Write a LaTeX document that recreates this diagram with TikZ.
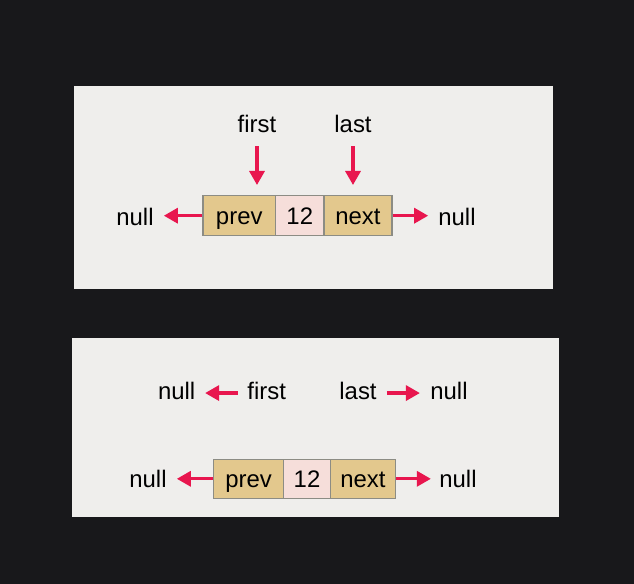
\documentclass[tikz,border=0pt]{standalone}
\usepackage{fontspec}
\setmainfont{Liberation Sans}
\usetikzlibrary{arrows.meta}
\definecolor{bgdark}{HTML}{18181B}
\definecolor{panel}{HTML}{EFEEEC}
\definecolor{tan}{HTML}{E3C88D}
\definecolor{pinkc}{HTML}{F6DEDA}
\definecolor{edgegray}{HTML}{8C8C84}
\definecolor{arrowred}{HTML}{E8164E}
\tikzset{
  lbl/.style={font=\fontsize{24}{28}\selectfont, inner sep=0pt, anchor=base, text height=12.5bp, text depth=0pt},
  cell/.style={draw=edgegray, line width=1.4bp, inner sep=0pt, font=\fontsize{24}{28}\selectfont, text height=17bp, text depth=0pt},
  tancell/.style={cell, fill=tan},
  pinkcell/.style={cell, fill=pinkc},
  ptr/.style={draw=arrowred, line width=3.2bp, -{Triangle[length=14bp,width=15bp]}}
}
\begin{document}
\begin{tikzpicture}[x=1bp,y=-1bp]
\useasboundingbox (0,0) rectangle (634,584);
\fill[bgdark] (0,0) rectangle (634,584);
\fill[panel] (74,86) rectangle (553,289);
\fill[panel] (72,338) rectangle (559,517);

% ---- top panel ----
\node[tancell, minimum width=72.5bp, minimum height=40bp] (prevT) at (239.25,215.7) {prev};
\node[pinkcell, minimum width=48.5bp, minimum height=40bp] (numT) at (299.75,215.7) {12};
\node[tancell, minimum width=68bp, minimum height=40bp] (nextT) at (358,215.7) {next};

\node[lbl] (firstT) at (257,133) {first};
\node[lbl] (lastT) at (353,133) {last};
\node[lbl] (nullTL) at (135,225) {null};
\node[lbl] (nullTR) at (457,225) {null};

\draw[ptr, shorten <=13bp, shorten >=10bp] (firstT.south) -- (firstT.south |- prevT.north);
\draw[ptr, shorten <=13bp, shorten >=10bp] (lastT.south) -- (lastT.south |- nextT.north);
\draw[ptr, shorten >=10bp] (prevT.west) -- (nullTL.east |- prevT.west);
\draw[ptr, shorten >=10bp] (nextT.east) -- (nullTR.west |- nextT.east);

% ---- bottom panel ----
\node[lbl] (nullBA) at (176.7,399.3) {null};
\node[lbl] (firstB) at (266.7,399.3) {first};
\node[lbl] (lastB) at (358,399.3) {last};
\node[lbl] (nullBB) at (449,399.3) {null};

\draw[ptr, shorten <=9.6bp, shorten >=9.6bp] (firstB.west) -- (nullBA.east);
\draw[ptr, shorten <=10bp, shorten >=10.3bp] (lastB.east) -- (nullBB.west);

\node[tancell, minimum width=70.2bp, minimum height=39bp] (prevB) at (248.6,478.8) {prev};
\node[pinkcell, minimum width=46.6bp, minimum height=39bp] (numB) at (307,478.8) {12};
\node[tancell, minimum width=65.4bp, minimum height=39bp] (nextB) at (363,478.8) {next};

\node[lbl] (nullBL) at (148,487.7) {null};
\node[lbl] (nullBR) at (458,487.7) {null};

\draw[ptr, shorten >=10bp] (prevB.west) -- (nullBL.east |- prevB.west);
\draw[ptr, shorten >=8.3bp] (nextB.east) -- (nullBR.west |- nextB.east);
\end{tikzpicture}
\end{document}
